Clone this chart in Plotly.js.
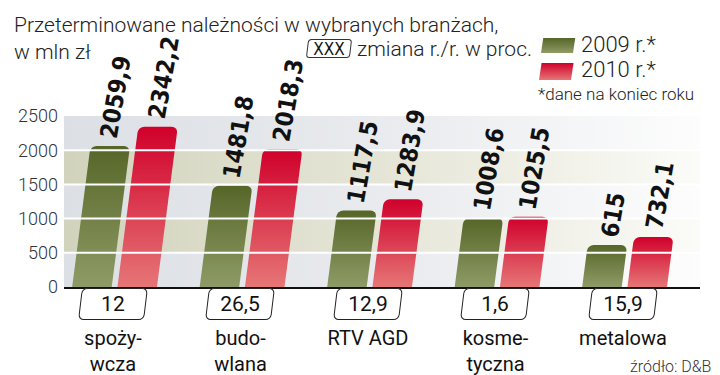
<!DOCTYPE html>
<html>
<head>
<meta charset="utf-8">
<script src="https://cdn.plot.ly/plotly-3.0.1.min.js"></script>
<style>html,body{margin:0;padding:0;background:#fff;}#chart{width:720px;height:375px;}</style>
</head>
<body>
<div id="chart"></div>
<script>
// ---- data ----
const categories = ['spoży-<br>wcza', 'budo-<br>wlana', 'RTV AGD', 'kosme-<br>tyczna', 'metalowa'];
const values2009 = [2059.9, 1481.8, 1117.5, 1008.6, 615];
const values2010 = [2342.2, 2018.3, 1283.9, 1025.5, 732.1];
const labels2009 = ['2059,9', '1481,8', '1117,5', '1008,6', '615'];
const labels2010 = ['2342,2', '2018,3', '1283,9', '1025,5', '732,1'];
const changeYoY = ['12', '26,5', '12,9', '1,6', '15,9'];
const yTicks = [0, 500, 1000, 1500, 2000, 2500];
const gridTicks = [500, 1000, 1500, 2000];
const bandRanges = [[500, 1000], [1500, 2000]];
const seriesNames = ['2009 r.*', '2010 r.*'];

// ---- layout constants ----
const W = 720, H = 375;
const M = {l: 64, r: 20, t: 116, b: 88};
const plotW = W - M.l - M.r, plotH = H - M.t - M.b;
const yMax = 2500;
const px = x => (x - M.l) / plotW;         // page px -> paper x
const py = y => (H - M.b - y) / plotH;     // page px -> paper y
const SKEW = 0.13;
const OFF = [-0.165, 0.19];                // bar bottom-centre offsets
const BW = 0.31;

const LIGHT = 'Roboto';
const NARROW = '"Liberation Sans Narrow", "DejaVu Sans Condensed", "Roboto Condensed", Roboto, sans-serif';

const traces = [
  {type: 'bar', name: seriesNames[0], x: categories, y: values2009,
   offset: OFF[0] - BW / 2, width: BW, marker: {color: '#6f7d3e', cornerradius: 6, line: {width: 0}},
   showlegend: false, hoverinfo: 'skip'},
  {type: 'bar', name: seriesNames[1], x: categories, y: values2010,
   offset: OFF[1] - BW / 2, width: BW, marker: {color: '#d8283f', cornerradius: 6, line: {width: 0}},
   showlegend: false, hoverinfo: 'skip'}
];

const shapes = [];
shapes.push({type: 'rect', xref: 'paper', yref: 'y', x0: 0, x1: 1, y0: 0, y1: yMax,
             fillcolor: '#e3e5e9', line: {width: 0}, layer: 'below', name: 'bg'});
bandRanges.forEach(r => shapes.push({type: 'rect', xref: 'paper', yref: 'y', x0: 0, x1: 1, y0: r[0], y1: r[1],
             fillcolor: '#dcdcca', line: {width: 0}, layer: 'below', name: 'band'}));
gridTicks.forEach(v => shapes.push({type: 'line', xref: 'paper', yref: 'y', x0: 0, x1: 1, y0: v, y1: v,
             line: {color: '#ffffff', width: 2}, layer: 'above'}));
shapes.push({type: 'rect', xref: 'paper', yref: 'paper', x0: px(541), x1: px(573), y0: py(53), y1: py(38),
             fillcolor: '#6f7d3e', line: {width: 0}, name: 'swO'});
shapes.push({type: 'rect', xref: 'paper', yref: 'paper', x0: px(539), x1: px(571), y0: py(80), y1: py(63),
             fillcolor: '#d8283f', line: {width: 0}, name: 'swR'});

const annotations = [];
const pxPerUnit = plotH / yMax;
function valueLabel(i, v, txt, s) {
  const h = v * pxPerUnit;
  annotations.push({x: i + OFF[s], y: v, xref: 'x', yref: 'y', text: txt, showarrow: false,
    textangle: -80, xanchor: 'center', yanchor: 'bottom', xshift: SKEW * h + 6, yshift: 3,
    font: {family: NARROW, size: 24, weight: 700, color: '#111'}});
}
values2009.forEach((v, i) => valueLabel(i, v, labels2009[i], 0));
values2010.forEach((v, i) => valueLabel(i, v, labels2010[i], 1));
changeYoY.forEach((t, i) => annotations.push({x: i, y: 0, xref: 'x', yref: 'y', text: t, showarrow: false,
  xanchor: 'center', yanchor: 'top', yshift: -1, width: 60, height: 26, borderpad: 2, borderwidth: 1,
  bordercolor: '#222', bgcolor: '#ffffff', font: {family: LIGHT, size: 21, color: '#111'}, name: 'box'}));
annotations.push({xref: 'paper', yref: 'paper', x: px(328.5), y: py(48), text: 'XXX', showarrow: false,
  xanchor: 'center', yanchor: 'middle', width: 40, height: 15, borderpad: 1, borderwidth: 1, bordercolor: '#333',
  font: {family: NARROW, size: 17, color: '#111'}, name: 'box'});
annotations.push({xref: 'paper', yref: 'paper', x: px(355), y: py(49), text: 'zmiana r./r. w proc.', showarrow: false,
  xanchor: 'left', yanchor: 'middle', font: {family: LIGHT, size: 21, weight: 300, color: '#222'}});
annotations.push({xref: 'paper', yref: 'paper', x: px(579), y: py(44), text: seriesNames[0], showarrow: false,
  xanchor: 'left', yanchor: 'middle', font: {family: LIGHT, size: 22, weight: 300, color: '#222'}});
annotations.push({xref: 'paper', yref: 'paper', x: px(579), y: py(70), text: seriesNames[1], showarrow: false,
  xanchor: 'left', yanchor: 'middle', font: {family: LIGHT, size: 22, weight: 300, color: '#222'}});
annotations.push({xref: 'paper', yref: 'paper', x: px(536), y: py(94), text: '*dane na koniec roku', showarrow: false,
  xanchor: 'left', yanchor: 'middle', font: {family: LIGHT, size: 17, weight: 300, color: '#222'}});
annotations.push({xref: 'paper', yref: 'paper', x: px(713), y: py(366), text: 'źródło: D&B', showarrow: false,
  xanchor: 'right', yanchor: 'middle', font: {family: LIGHT, size: 16, weight: 300, color: '#333'}});

const layout = {
  width: W, height: H, margin: M,
  paper_bgcolor: '#ffffff', plot_bgcolor: '#ffffff',
  font: {family: LIGHT, color: '#222'},
  title: {text: 'Przeterminowane należności w wybranych branżach,<br>w mln zł',
          xref: 'container', yref: 'container', x: 14 / W, xanchor: 'left', y: 1 - 32 / H, yanchor: 'top',
          font: {family: LIGHT, size: 21, weight: 300, color: '#222'}},
  barmode: 'overlay',
  xaxis: {type: 'category', range: [-0.384, 4.604], showgrid: false, zeroline: false,
          showline: true, linecolor: '#111', linewidth: 2, ticks: '', ticklabelstandoff: 32,
          tickfont: {family: LIGHT, size: 20, color: '#111'}, fixedrange: true},
  yaxis: {range: [0, yMax], tickvals: yTicks, showgrid: false, zeroline: false, showline: false,
          ticks: '', ticklabelstandoff: 5, tickfont: {family: LIGHT, size: 18, weight: 300, color: '#333'},
          fixedrange: true},
  shapes: shapes, annotations: annotations, showlegend: false
};

const gd = document.getElementById('chart');
Plotly.newPlot(gd, traces, layout, {staticPlot: true, displayModeBar: false}).then(() => {
  const ns = 'http://www.w3.org/2000/svg';
  const svg = gd.querySelector('.main-svg');
  let defs = svg.querySelector('defs');
  if (!defs) { defs = document.createElementNS(ns, 'defs'); svg.insertBefore(defs, svg.firstChild); }
  function grad(id, horiz, stops) {
    const g = document.createElementNS(ns, 'linearGradient');
    g.setAttribute('id', id);
    g.setAttribute('x1', '0'); g.setAttribute('y1', '0');
    g.setAttribute('x2', horiz ? '1' : '0'); g.setAttribute('y2', horiz ? '0' : '1');
    stops.forEach(s => {
      const st = document.createElementNS(ns, 'stop');
      st.setAttribute('offset', s[0]); st.setAttribute('stop-color', s[1]);
      g.appendChild(st);
    });
    defs.appendChild(g);
  }
  grad('gOlive', false, [['0', '#566628'], ['1', '#8e9b66']]);
  grad('gRed', false, [['0', '#d0002b'], ['1', '#e67676']]);
  grad('gBg', true, [['0', '#dcdfe4'], ['0.55', '#eaecef'], ['1', '#fdfdfd']]);
  grad('gBand', true, [['0', '#d2d3bc'], ['0.55', '#e7e7da'], ['1', '#fbfbf8']]);
  const fillMap = {bg: 'gBg', band: 'gBand', swO: 'gOlive', swR: 'gRed'};
  gd.querySelectorAll('.shapelayer path').forEach(p => {
    const idx = +p.getAttribute('data-index');
    const sh = layout.shapes[idx];
    if (sh && fillMap[sh.name]) p.style.fill = 'url(#' + fillMap[sh.name] + ')';
    if (sh && (sh.name === 'swO' || sh.name === 'swR')) {
      const bb = p.getBBox(); const yb = bb.y + bb.height;
      p.setAttribute('transform', 'matrix(1,0,' + (-0.15) + ',1,' + (0.15 * yb) + ',0)');
    }
  });
  gd.querySelectorAll('.barlayer .trace').forEach((tr, ti) => {
    tr.querySelectorAll('.point path').forEach(p => {
      const bb = p.getBBox(); const yb = bb.y + bb.height;
      p.setAttribute('transform', 'matrix(1,0,' + (-SKEW) + ',1,' + (SKEW * yb) + ',0)');
      p.style.fill = 'url(#' + (ti === 0 ? 'gOlive' : 'gRed') + ')';
    });
  });
  // rounded, slanted value boxes
  gd.querySelectorAll('.annotation').forEach(a => {
    const idx = +a.getAttribute('data-index');
    const an = layout.annotations[idx];
    if (!an || an.name !== 'box') return;
    const r = a.querySelector('rect.bg');
    if (!r) return;
    const y = +r.getAttribute('y') || 0;
    const h = +r.getAttribute('height');
    const cy = y + h / 2;
    const rad = h > 24 ? 5 : 3;
    r.setAttribute('rx', rad); r.setAttribute('ry', rad);
    r.setAttribute('transform', 'matrix(1,0,-0.12,1,' + (0.12 * cy) + ',0)');
  });
});
</script>
</body>
</html>
